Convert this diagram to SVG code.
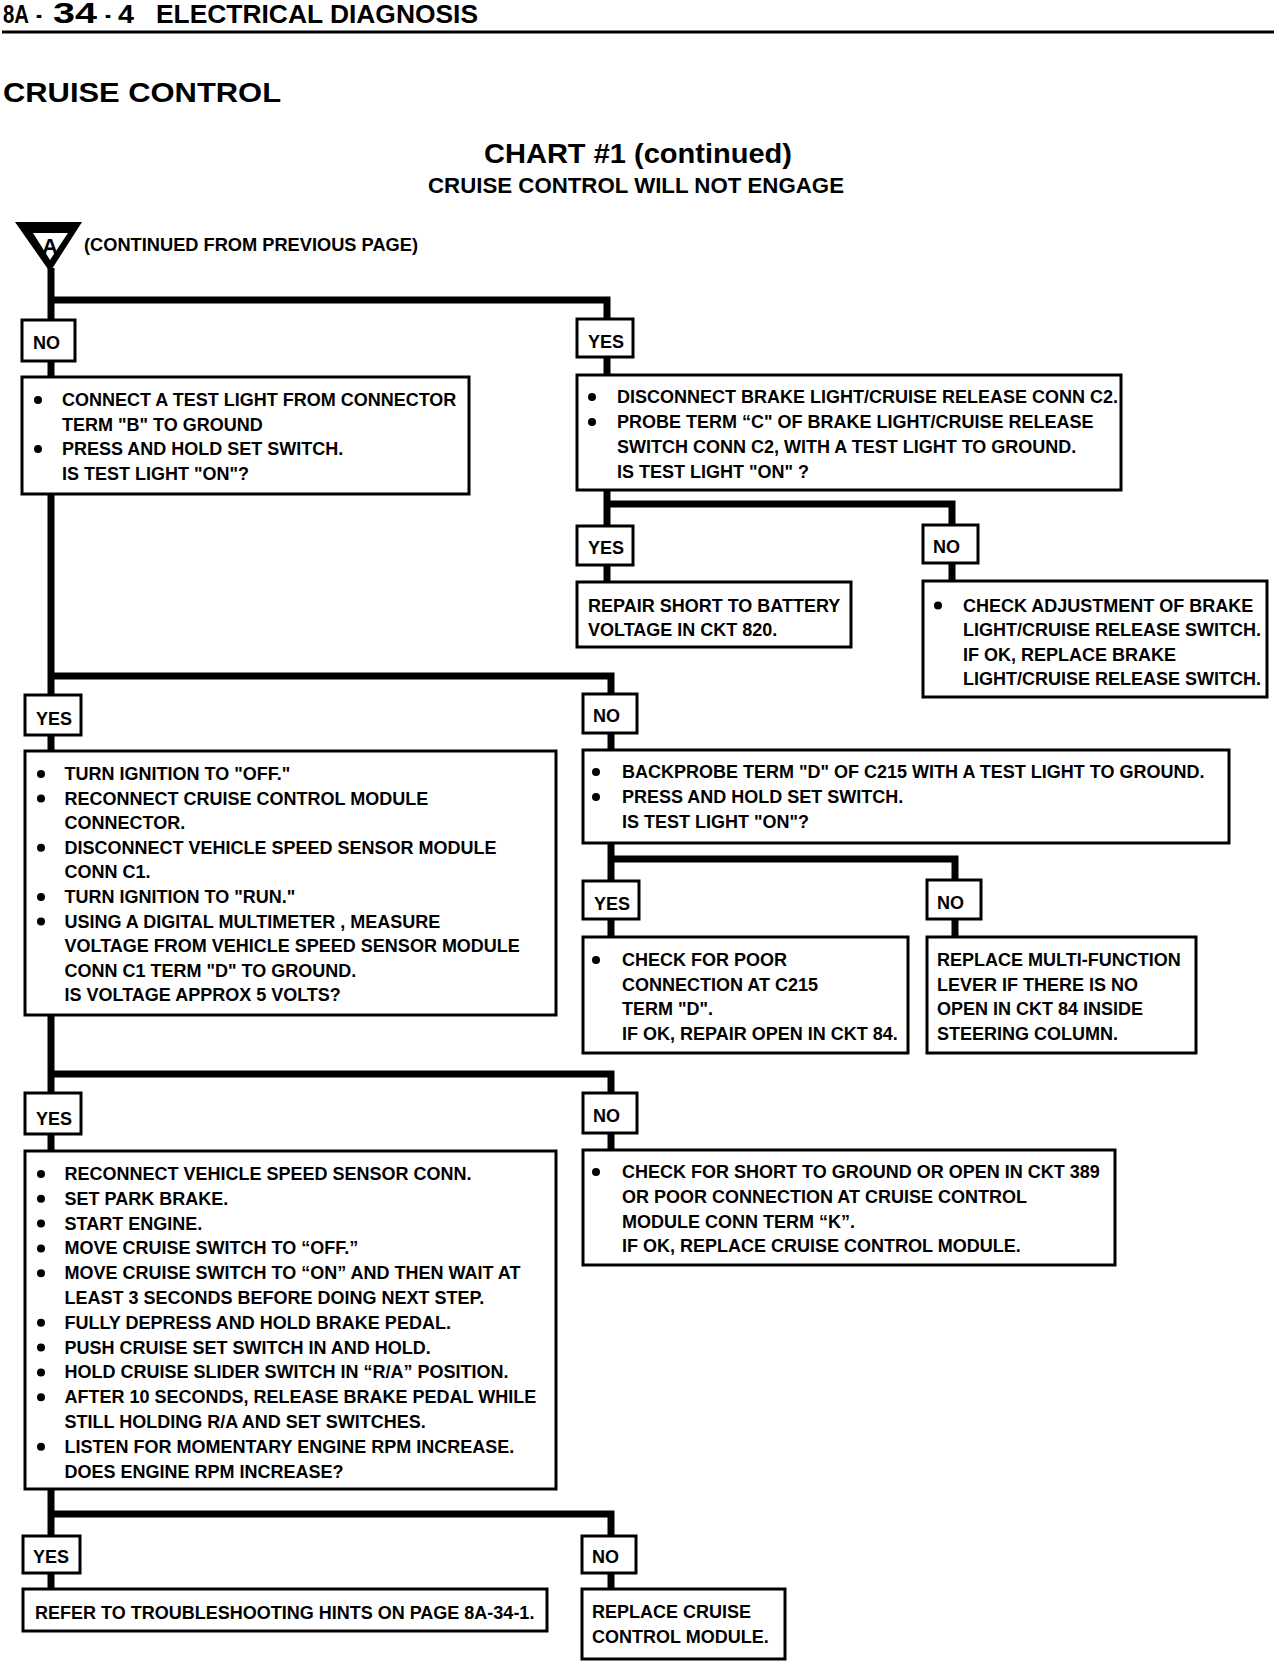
<svg xmlns="http://www.w3.org/2000/svg" width="1280" height="1662" viewBox="0 0 1280 1662">
<style>
.box{fill:#fff;stroke:#000;stroke-width:3}
.t{font-family:"Liberation Sans",Arial,sans-serif;font-weight:bold;font-size:18px;fill:#000}
.conn{fill:none;stroke:#000;stroke-width:7;stroke-linejoin:miter;stroke-linecap:butt}
.dot{fill:#000}
</style>
<rect width="1280" height="1662" fill="#fff"/>
<g id="header">
<text class="t" style="font-size:25px" y="23"><tspan x="3" textLength="26" lengthAdjust="spacingAndGlyphs">8A</tspan><tspan x="36" textLength="6" lengthAdjust="spacingAndGlyphs">-</tspan><tspan x="53" style="font-size:29px" textLength="44" lengthAdjust="spacingAndGlyphs">34</tspan><tspan x="105" textLength="6" lengthAdjust="spacingAndGlyphs">-</tspan><tspan x="118" textLength="16" lengthAdjust="spacingAndGlyphs">4</tspan><tspan x="156" textLength="322" lengthAdjust="spacingAndGlyphs">ELECTRICAL DIAGNOSIS</tspan></text>
<line x1="2" y1="32" x2="1274" y2="32" stroke="#000" stroke-width="3"/>
<text class="t" style="font-size:28px" x="3" y="102" textLength="278" lengthAdjust="spacingAndGlyphs">CRUISE CONTROL</text>
<text class="t" style="font-size:28px" x="484" y="163" textLength="308" lengthAdjust="spacingAndGlyphs">CHART #1 (continued)</text>
<text class="t" style="font-size:22px" x="428" y="193" textLength="416" lengthAdjust="spacingAndGlyphs">CRUISE CONTROL WILL NOT ENGAGE</text>
</g>
<g id="connectors">
<path class="conn" d="M51,268 V320"/>
<path class="conn" d="M51,300 H607 V319"/>
<path class="conn" d="M51,361 V377"/>
<path class="conn" d="M607,357 V375"/>
<path class="conn" d="M607,490 V526"/>
<path class="conn" d="M607,504 H952 V525"/>
<path class="conn" d="M607,565 V582"/>
<path class="conn" d="M952,563 V581"/>
<path class="conn" d="M51,494 V695"/>
<path class="conn" d="M51,676 H611 V694"/>
<path class="conn" d="M51,735 V751"/>
<path class="conn" d="M611,733 V750"/>
<path class="conn" d="M611,843 V881"/>
<path class="conn" d="M611,859 H955 V880"/>
<path class="conn" d="M611,919 V937"/>
<path class="conn" d="M955,919 V937"/>
<path class="conn" d="M51,1015 V1093"/>
<path class="conn" d="M51,1074 H611 V1093"/>
<path class="conn" d="M51,1134 V1151"/>
<path class="conn" d="M611,1133 V1150"/>
<path class="conn" d="M51,1489 V1536"/>
<path class="conn" d="M51,1514 H611 V1536"/>
<path class="conn" d="M51,1573 V1589"/>
<path class="conn" d="M611,1573 V1589"/>
</g>
<g id="start">
<polygon points="15,222 82,222 50,272" fill="#000"/>
<polygon points="33,233 68,233 50,260" fill="#fff"/>
<text class="t" style="font-size:22px" x="50" y="254" text-anchor="middle">A</text>
<text class="t" x="84" y="251" textLength="334" lengthAdjust="spacingAndGlyphs">(CONTINUED FROM PREVIOUS PAGE)</text>
</g>
<g id="lbl-no-1"><rect class="box" x="22" y="320" width="53" height="41"/><text class="t" x="33" y="349">NO</text></g>
<g id="lbl-yes-1"><rect class="box" x="577" y="319" width="56" height="38"/><text class="t" x="588" y="348">YES</text></g>
<g id="box-a">
<rect class="box" x="22" y="377" width="447" height="117"/>
<circle class="dot" cx="38" cy="400" r="4"/><circle class="dot" cx="38" cy="449" r="4"/>
<text class="t"><tspan x="62" y="406">CONNECT A TEST LIGHT FROM CONNECTOR</tspan><tspan x="62" y="430.5">TERM "B" TO GROUND</tspan><tspan x="62" y="455">PRESS AND HOLD SET SWITCH.</tspan><tspan x="62" y="479.5">IS TEST LIGHT "ON"?</tspan></text>
</g>
<g id="box-b">
<rect class="box" x="577" y="375" width="544" height="115"/>
<circle class="dot" cx="592" cy="397" r="4"/><circle class="dot" cx="592" cy="422" r="4"/>
<text class="t"><tspan x="617" y="403">DISCONNECT BRAKE LIGHT/CRUISE RELEASE CONN C2.</tspan><tspan x="617" y="428">PROBE TERM “C" OF BRAKE LIGHT/CRUISE RELEASE</tspan><tspan x="617" y="453">SWITCH CONN C2, WITH A TEST LIGHT TO GROUND.</tspan><tspan x="617" y="477.5">IS TEST LIGHT "ON" ?</tspan></text>
</g>
<g id="lbl-yes-2"><rect class="box" x="577" y="526" width="56" height="39"/><text class="t" x="588" y="554">YES</text></g>
<g id="lbl-no-2"><rect class="box" x="923" y="525" width="55" height="38"/><text class="t" x="933" y="553">NO</text></g>
<g id="box-repair">
<rect class="box" x="577" y="582" width="274" height="65"/>
<text class="t"><tspan x="588" y="611.5">REPAIR SHORT TO BATTERY</tspan><tspan x="588" y="636">VOLTAGE IN CKT 820.</tspan></text>
</g>
<g id="box-adjust">
<rect class="box" x="923" y="581" width="344" height="116"/>
<circle class="dot" cx="938" cy="605.5" r="4"/>
<text class="t"><tspan x="963" y="611.5">CHECK ADJUSTMENT OF BRAKE</tspan><tspan x="963" y="636">LIGHT/CRUISE RELEASE SWITCH.</tspan><tspan x="963" y="660.5">IF OK, REPLACE BRAKE</tspan><tspan x="963" y="685">LIGHT/CRUISE RELEASE SWITCH.</tspan></text>
</g>
<g id="lbl-yes-3"><rect class="box" x="25" y="695" width="56" height="40"/><text class="t" x="36" y="725">YES</text></g>
<g id="lbl-no-3"><rect class="box" x="583" y="694" width="54" height="39"/><text class="t" x="593" y="722">NO</text></g>
<g id="box-c">
<rect class="box" x="25" y="751" width="531" height="264"/>
<circle class="dot" cx="41" cy="774" r="4"/><circle class="dot" cx="41" cy="798.6" r="4"/><circle class="dot" cx="41" cy="847.8" r="4"/><circle class="dot" cx="41" cy="897" r="4"/><circle class="dot" cx="41" cy="921.6" r="4"/>
<text class="t"><tspan x="64.5" y="780">TURN IGNITION TO "OFF."</tspan><tspan x="64.5" y="804.6">RECONNECT CRUISE CONTROL MODULE</tspan><tspan x="64.5" y="829.2">CONNECTOR.</tspan><tspan x="64.5" y="853.8">DISCONNECT VEHICLE SPEED SENSOR MODULE</tspan><tspan x="64.5" y="878.4">CONN C1.</tspan><tspan x="64.5" y="903">TURN IGNITION TO "RUN."</tspan><tspan x="64.5" y="927.6">USING A DIGITAL MULTIMETER , MEASURE</tspan><tspan x="64.5" y="952.2">VOLTAGE FROM VEHICLE SPEED SENSOR MODULE</tspan><tspan x="64.5" y="976.8">CONN C1 TERM "D" TO GROUND.</tspan><tspan x="64.5" y="1001.4">IS VOLTAGE APPROX 5 VOLTS?</tspan></text>
</g>
<g id="box-d">
<rect class="box" x="583" y="750" width="646" height="93"/>
<circle class="dot" cx="596" cy="772" r="4"/><circle class="dot" cx="596" cy="797" r="4"/>
<text class="t"><tspan x="622" y="778">BACKPROBE TERM "D" OF C215 WITH A TEST LIGHT TO GROUND.</tspan><tspan x="622" y="803">PRESS AND HOLD SET SWITCH.</tspan><tspan x="622" y="827.5">IS TEST LIGHT "ON"?</tspan></text>
</g>
<g id="lbl-yes-4"><rect class="box" x="583" y="881" width="56" height="38"/><text class="t" x="594" y="910">YES</text></g>
<g id="lbl-no-4"><rect class="box" x="927" y="880" width="54" height="39"/><text class="t" x="937" y="909">NO</text></g>
<g id="box-e">
<rect class="box" x="583" y="937" width="325" height="116"/>
<circle class="dot" cx="596" cy="960" r="4"/>
<text class="t"><tspan x="622" y="966">CHECK FOR POOR</tspan><tspan x="622" y="990.5">CONNECTION AT C215</tspan><tspan x="622" y="1015">TERM "D".</tspan><tspan x="622" y="1039.5">IF OK, REPAIR OPEN IN CKT 84.</tspan></text>
</g>
<g id="box-f">
<rect class="box" x="927" y="937" width="269" height="116"/>
<text class="t"><tspan x="937" y="966">REPLACE MULTI-FUNCTION</tspan><tspan x="937" y="990.5">LEVER IF THERE IS NO</tspan><tspan x="937" y="1015">OPEN IN CKT 84 INSIDE</tspan><tspan x="937" y="1039.5">STEERING COLUMN.</tspan></text>
</g>
<g id="lbl-yes-5"><rect class="box" x="25" y="1093" width="56" height="41"/><text class="t" x="36" y="1125">YES</text></g>
<g id="lbl-no-5"><rect class="box" x="583" y="1093" width="54" height="40"/><text class="t" x="593" y="1122">NO</text></g>
<g id="box-g">
<rect class="box" x="25" y="1151" width="531" height="338"/>
<circle class="dot" cx="41" cy="1174" r="4"/><circle class="dot" cx="41" cy="1198.8" r="4"/><circle class="dot" cx="41" cy="1223.6" r="4"/><circle class="dot" cx="41" cy="1248.4" r="4"/><circle class="dot" cx="41" cy="1273.2" r="4"/><circle class="dot" cx="41" cy="1322.8" r="4"/><circle class="dot" cx="41" cy="1347.6" r="4"/><circle class="dot" cx="41" cy="1372.4" r="4"/><circle class="dot" cx="41" cy="1397.2" r="4"/><circle class="dot" cx="41" cy="1446.8" r="4"/>
<text class="t"><tspan x="64.5" y="1180">RECONNECT VEHICLE SPEED SENSOR CONN.</tspan><tspan x="64.5" y="1204.8">SET PARK BRAKE.</tspan><tspan x="64.5" y="1229.6">START ENGINE.</tspan><tspan x="64.5" y="1254.4">MOVE CRUISE SWITCH TO “OFF.”</tspan><tspan x="64.5" y="1279.2">MOVE CRUISE SWITCH TO “ON” AND THEN WAIT AT</tspan><tspan x="64.5" y="1304">LEAST 3 SECONDS BEFORE DOING NEXT STEP.</tspan><tspan x="64.5" y="1328.8">FULLY DEPRESS AND HOLD BRAKE PEDAL.</tspan><tspan x="64.5" y="1353.6">PUSH CRUISE SET SWITCH IN AND HOLD.</tspan><tspan x="64.5" y="1378.4">HOLD CRUISE SLIDER SWITCH IN “R/A” POSITION.</tspan><tspan x="64.5" y="1403.2">AFTER 10 SECONDS, RELEASE BRAKE PEDAL WHILE</tspan><tspan x="64.5" y="1428">STILL HOLDING R/A AND SET SWITCHES.</tspan><tspan x="64.5" y="1452.8">LISTEN FOR MOMENTARY ENGINE RPM INCREASE.</tspan><tspan x="64.5" y="1477.6">DOES ENGINE RPM INCREASE?</tspan></text>
</g>
<g id="box-h">
<rect class="box" x="583" y="1150" width="532" height="115"/>
<circle class="dot" cx="596" cy="1172" r="4"/>
<text class="t"><tspan x="622" y="1178">CHECK FOR SHORT TO GROUND OR OPEN IN CKT 389</tspan><tspan x="622" y="1203">OR POOR CONNECTION AT CRUISE CONTROL</tspan><tspan x="622" y="1227.5">MODULE CONN TERM “K”.</tspan><tspan x="622" y="1252">IF OK, REPLACE CRUISE CONTROL MODULE.</tspan></text>
</g>
<g id="lbl-yes-6"><rect class="box" x="23" y="1536" width="57" height="37"/><text class="t" x="33" y="1563">YES</text></g>
<g id="lbl-no-6"><rect class="box" x="582" y="1536" width="54" height="37"/><text class="t" x="592" y="1563">NO</text></g>
<g id="box-i">
<rect class="box" x="23" y="1589" width="524" height="42"/>
<text class="t" x="35" y="1619">REFER TO TROUBLESHOOTING HINTS ON PAGE 8A-34-1.</text>
</g>
<g id="box-j">
<rect class="box" x="582" y="1589" width="203" height="70"/>
<text class="t"><tspan x="592" y="1618">REPLACE CRUISE</tspan><tspan x="592" y="1643">CONTROL MODULE.</tspan></text>
</g>
</svg>
